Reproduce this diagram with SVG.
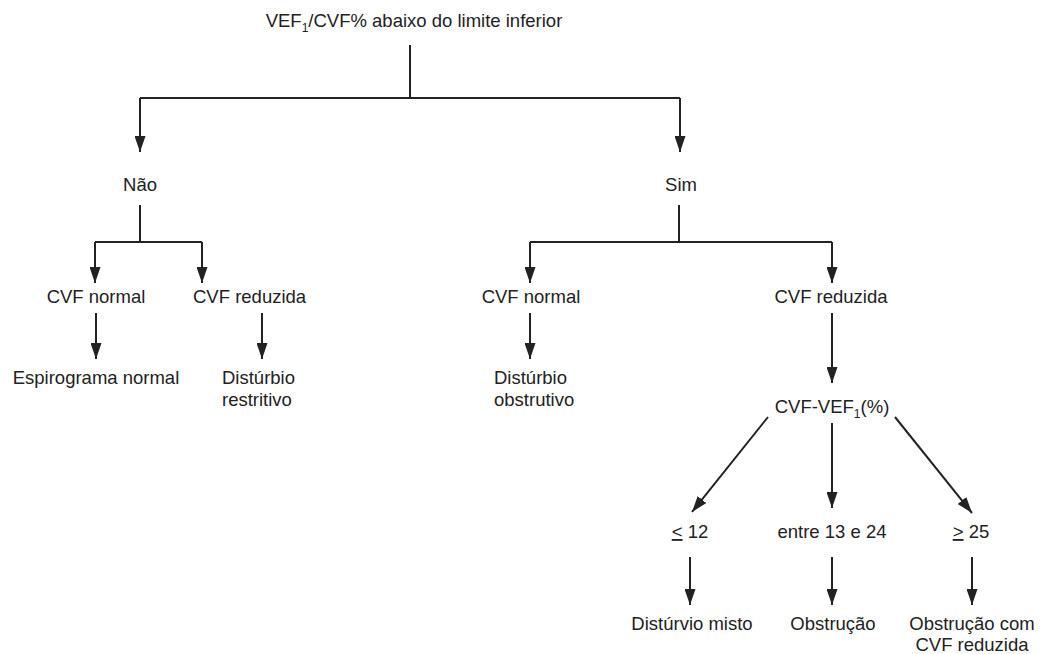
<svg xmlns="http://www.w3.org/2000/svg" width="1041" height="654" viewBox="0 0 1041 654">
<style>
text{font-family:"Liberation Sans",Arial,sans-serif;font-size:18.5px;fill:#222;}
.c{text-anchor:middle;}
.ln{stroke:#222;stroke-width:2;fill:none;}
.ar{stroke:#222;stroke-width:2;fill:none;marker-end:url(#ah);}
.sub{font-size:12px;}
</style>
<defs>
<marker id="ah" viewBox="0 0 16 11" markerWidth="16" markerHeight="11" refX="16" refY="5.5" orient="auto" markerUnits="userSpaceOnUse">
<path d="M0,0 L16,5.5 L0,11 z" fill="#222"/>
</marker>
</defs>
<rect width="1041" height="654" fill="#fff"/>
<g id="connectors">
<path class="ln" d="M410,45 V98 M140,98 H680"/>
<path class="ar" d="M140,98 V152"/>
<path class="ar" d="M680,98 V152"/>
<path class="ln" d="M140,205 V242 M95,242 H202"/>
<path class="ar" d="M95,242 V283"/>
<path class="ar" d="M202,242 V283"/>
<path class="ar" d="M96,313 V359"/>
<path class="ar" d="M262,313 V359"/>
<path class="ln" d="M679,205 V242 M530,242 H832"/>
<path class="ar" d="M530,242 V283"/>
<path class="ar" d="M832,242 V283"/>
<path class="ar" d="M530,313 V359"/>
<path class="ar" d="M832,313 V383"/>
<path class="ar" d="M768,417 L692,512"/>
<path class="ar" d="M832,423 V508"/>
<path class="ar" d="M895,417 L972,513"/>
<path class="ar" d="M690,557 V605"/>
<path class="ar" d="M832,557 V605"/>
<path class="ar" d="M972,557 V605"/>
</g>
<g id="n-root"><text class="c" x="414" y="27">VEF<tspan class="sub" dy="5">1</tspan><tspan dy="-5">/CVF% abaixo do limite inferior</tspan></text></g>
<g id="n-nao"><text class="c" x="140" y="191">Não</text></g>
<g id="n-sim"><text class="c" x="681" y="191">Sim</text></g>
<g id="n-cvfnormal-l"><text class="c" x="96" y="303">CVF normal</text></g>
<g id="n-cvfred-l"><text x="193" y="303">CVF reduzida</text></g>
<g id="n-espiro"><text class="c" x="96" y="384">Espirograma normal</text></g>
<g id="n-restr"><text x="222" y="384">Distúrbio</text><text x="222" y="406">restritivo</text></g>
<g id="n-cvfnormal-r"><text class="c" x="531" y="303">CVF normal</text></g>
<g id="n-cvfred-r"><text class="c" x="831" y="303">CVF reduzida</text></g>
<g id="n-obstr"><text x="494" y="384">Distúrbio</text><text x="494" y="406">obstrutivo</text></g>
<g id="n-diff"><text class="c" x="832" y="413">CVF-VEF<tspan class="sub" dy="5">1</tspan><tspan dy="-5">(%)</tspan></text></g>
<g id="n-le12"><text class="c" x="690" y="538"><tspan text-decoration="underline">&lt;</tspan> 12</text></g>
<g id="n-13-24"><text class="c" x="832" y="538">entre 13 e 24</text></g>
<g id="n-ge25"><text class="c" x="971" y="538"><tspan text-decoration="underline">&gt;</tspan> 25</text></g>
<g id="n-misto"><text class="c" x="692" y="630">Distúrvio misto</text></g>
<g id="n-obstrucao"><text class="c" x="833" y="630">Obstrução</text></g>
<g id="n-obstrcvf"><text class="c" x="972" y="630">Obstrução com</text><text class="c" x="972" y="651">CVF reduzida</text></g>
</svg>
